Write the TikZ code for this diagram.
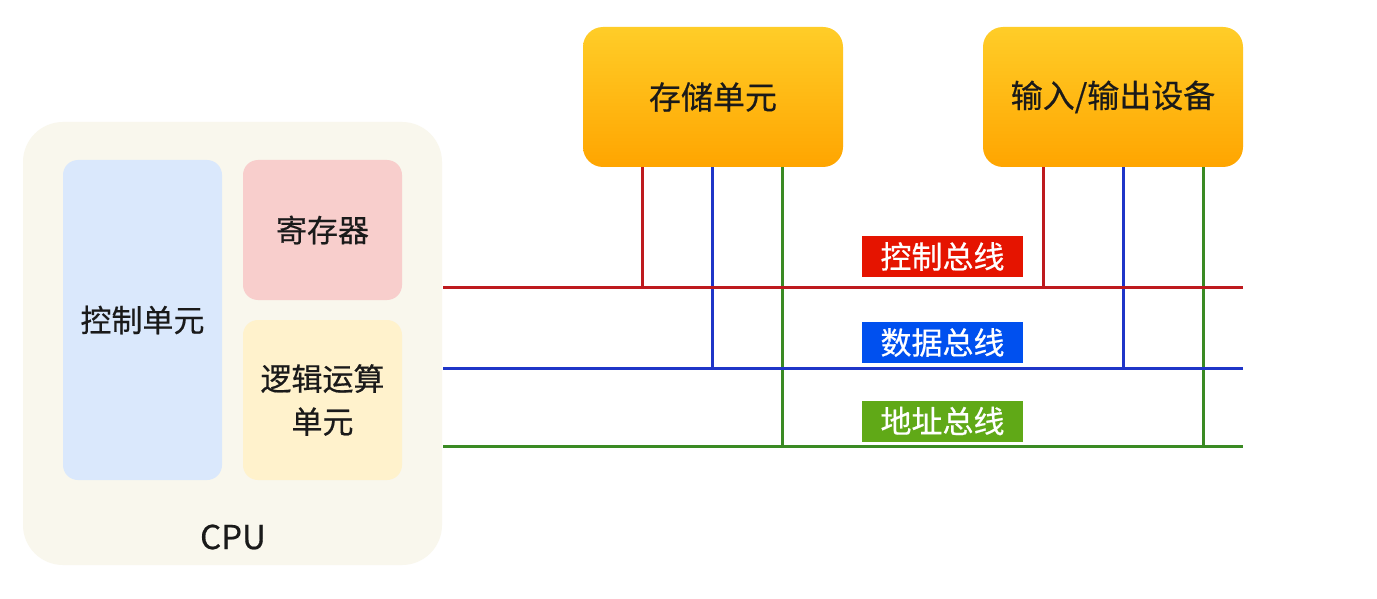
\documentclass[tikz,border=0pt]{standalone}
\usepackage{fontspec}
\newfontfamily\cjk[FakeBold=0.5]{Noto Sans CJK SC}
\definecolor{cpubg}{HTML}{F9F7ED}
\definecolor{ctlbg}{HTML}{DAE8FC}
\definecolor{regbg}{HTML}{F8CECC}
\definecolor{alubg}{HTML}{FFF2CC}
\definecolor{orgtop}{HTML}{FFCD28}
\definecolor{orgbot}{HTML}{FFA500}
\definecolor{txt}{HTML}{1A1A1A}
\definecolor{busred}{HTML}{BE1A1E}
\definecolor{busblue}{HTML}{1F35C8}
\definecolor{busgreen}{HTML}{3A8A23}
\definecolor{lblred}{HTML}{E51400}
\definecolor{lblblue}{HTML}{0050EF}
\definecolor{lblgreen}{HTML}{60A917}
\begin{document}
\begin{tikzpicture}[x=1pt,y=-1pt,
  every node/.style={font=\cjk\fontsize{31}{43}\selectfont, text=txt, inner sep=0pt, align=center},
  inbox/.style={rounded corners=15pt, fill=#1, minimum width=159pt},
  unitbox/.style={rounded corners=20pt, top color=orgtop, bottom color=orgbot, minimum width=260pt, minimum height=140pt, font=\cjk\fontsize{32}{40}\selectfont},
  buslbl/.style={fill=#1, text=white, minimum width=161pt, minimum height=41pt, font=\cjk\fontsize{31}{34}\selectfont},
  bus/.style={line width=3pt, draw=#1}]
\useasboundingbox (0,0) rectangle (1377,599);
\fill[white] (0,0) rectangle (1377,599);
% CPU
\node[rounded corners=40pt, fill=cpubg, minimum width=419pt, minimum height=443pt] (cpu) at (232.5,343.5) {};
\node[inbox=ctlbg, minimum height=320pt] (ctl) at (142.5,320) {控制单元};
\node[inbox=regbg, minimum height=140pt] (reg) at (322.5,230) {寄存器};
\node[inbox=alubg, minimum height=160pt] (alu) at (322.5,400) {逻辑运算\\单元};
\node[font=\cjk\fontsize{33}{40}\selectfont] (cpulbl) at (233,537) {CPU};
% units
\node[unitbox] (mem) at (713,97) {存储单元};
\node[unitbox] (io) at (1113,97) {输入/输出设备};
% bus ends
\coordinate (rs) at (443,287); \coordinate (re) at (1243,287);
\coordinate (bs) at (443,368); \coordinate (be) at (1243,368);
\coordinate (gs) at (443,446); \coordinate (ge) at (1243,446);
% verticals
\draw[bus=busred] ([xshift=-71pt]mem.south) -- ([xshift=-71pt]mem.south |- rs);
\draw[bus=busblue] ([xshift=-1pt]mem.south) -- ([xshift=-1pt]mem.south |- bs);
\draw[bus=busgreen] ([xshift=69pt]mem.south) -- ([xshift=69pt]mem.south |- gs);
\draw[bus=busred] ([xshift=-70pt]io.south) -- ([xshift=-70pt]io.south |- rs);
\draw[bus=busblue] ([xshift=10pt]io.south) -- ([xshift=10pt]io.south |- bs);
\draw[bus=busgreen] ([xshift=90pt]io.south) -- ([xshift=90pt]io.south |- gs);
% buses
\draw[bus=busred] (rs) -- (re);
\draw[bus=busblue] (bs) -- (be);
\draw[bus=busgreen] (gs) -- (ge);
% labels
\node[buslbl=lblred] (lc) at (942.5,256.5) {控制总线};
\node[buslbl=lblblue] (ld) at (942.5,342.5) {数据总线};
\node[buslbl=lblgreen] (la) at (942.5,421) {地址总线};
\end{tikzpicture}
\end{document}
